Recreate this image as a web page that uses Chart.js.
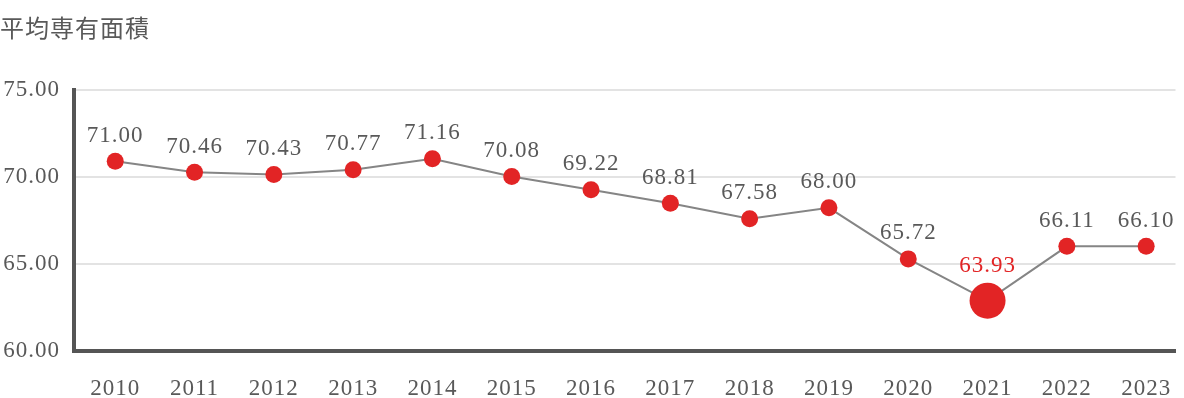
<!DOCTYPE html>
<html>
<head>
<meta charset="utf-8">
<script src="https://cdn.jsdelivr.net/npm/chart.js@4/dist/chart.umd.min.js"></script>
<style>
  html, body { margin: 0; padding: 0; background: #fff; overflow: hidden; }
  #wrap { width: 1184px; height: 398px; }
</style>
</head>
<body>
<div id="wrap"><canvas id="chart"></canvas></div>
<script>
const title = '平均専有面積'
const years = ['2010', '2011', '2012', '2013', '2014', '2015', '2016', '2017', '2018', '2019', '2020', '2021', '2022', '2023']
// where the dots sit on the y axis
const areaValues = [70.90, 70.27, 70.14, 70.41, 71.04, 70.02, 69.26, 68.49, 67.59, 68.22, 65.29, 62.89, 66.01, 66.01]
// what is printed above each dot
const areaLabels = ['71.00', '70.46', '70.43', '70.77', '71.16', '70.08', '69.22', '68.81', '67.58', '68.00', '65.72', '63.93', '66.11', '66.10']
const highlightYear = '2021'
const yMin = 60
const yMax = 75
const yStep = 5

const red = '#e22425'
const textGray = '#595959'
const serif = '"Liberation Serif", serif'

const isHighlight = (i) => years[i] === highlightYear

const spacing = {
  id: 'spacing',
  beforeUpdate (chart) { chart.ctx.letterSpacing = '1px' },
  beforeDraw (chart) { chart.ctx.letterSpacing = '1px' }
}

const valueLabels = {
  id: 'valueLabels',
  afterDatasetsDraw (chart) {
    const ctx = chart.ctx
    const meta = chart.getDatasetMeta(0)
    ctx.save()
    ctx.letterSpacing = '1px'
    ctx.font = `23px ${serif}`
    ctx.textAlign = 'center'
    ctx.textBaseline = 'alphabetic'
    meta.data.forEach((pt, i) => {
      ctx.fillStyle = isHighlight(i) ? red : textGray
      ctx.fillText(areaLabels[i], pt.x, pt.y - pt.options.radius - 11)
    })
    ctx.restore()
  }
}

new Chart(document.getElementById('chart'), {
  type: 'line',
  data: {
    datasets: [{
      data: areaValues.map((v, i) => ({ x: i, y: v })),
      borderColor: '#858585',
      borderWidth: 2,
      pointBackgroundColor: red,
      pointBorderWidth: 0,
      pointRadius: years.map((y, i) => isHighlight(i) ? 18 : 8.5),
      pointHoverRadius: years.map((y, i) => isHighlight(i) ? 18 : 8.5),
      tension: 0
    }]
  },
  plugins: [spacing, valueLabels],
  options: {
    responsive: true,
    maintainAspectRatio: false,
    animation: false,
    events: [],
    layout: { padding: { left: 0, right: 7, top: 0, bottom: 0 } },
    plugins: {
      legend: { display: false },
      tooltip: { enabled: false },
      title: {
        display: true,
        text: title,
        align: 'start',
        color: textGray,
        font: { family: '"Noto Sans CJK JP", sans-serif', size: 24, weight: 'normal', lineHeight: 1.2 },
        padding: { top: 13, bottom: 48 }
      }
    },
    scales: {
      x: {
        type: 'linear',
        min: -0.52,
        max: 13.37,
        grid: { display: false },
        border: { display: true, color: '#555', width: 4 },
        ticks: {
          stepSize: 1,
          includeBounds: false,
          padding: 16,
          color: textGray,
          font: { family: serif, size: 23 },
          callback: (v) => years[v] ?? ''
        },
        afterFit: (scale) => {
          scale.height = 47
          scale.paddingLeft = 0
          scale.paddingRight = 0
        }
      },
      y: {
        min: yMin,
        max: yMax,
        grid: { color: '#e3e3e3', lineWidth: 2, drawTicks: false },
        border: { display: true, color: '#555', width: 4 },
        ticks: {
          stepSize: yStep,
          padding: 14,
          color: textGray,
          font: { family: serif, size: 23 },
          callback: (v) => v.toFixed(2)
        },
        afterFit: (scale) => {
          scale.width = 74
          scale.paddingTop = 0
          scale.paddingBottom = 0
        }
      }
    }
  }
})
</script>
</body>
</html>
